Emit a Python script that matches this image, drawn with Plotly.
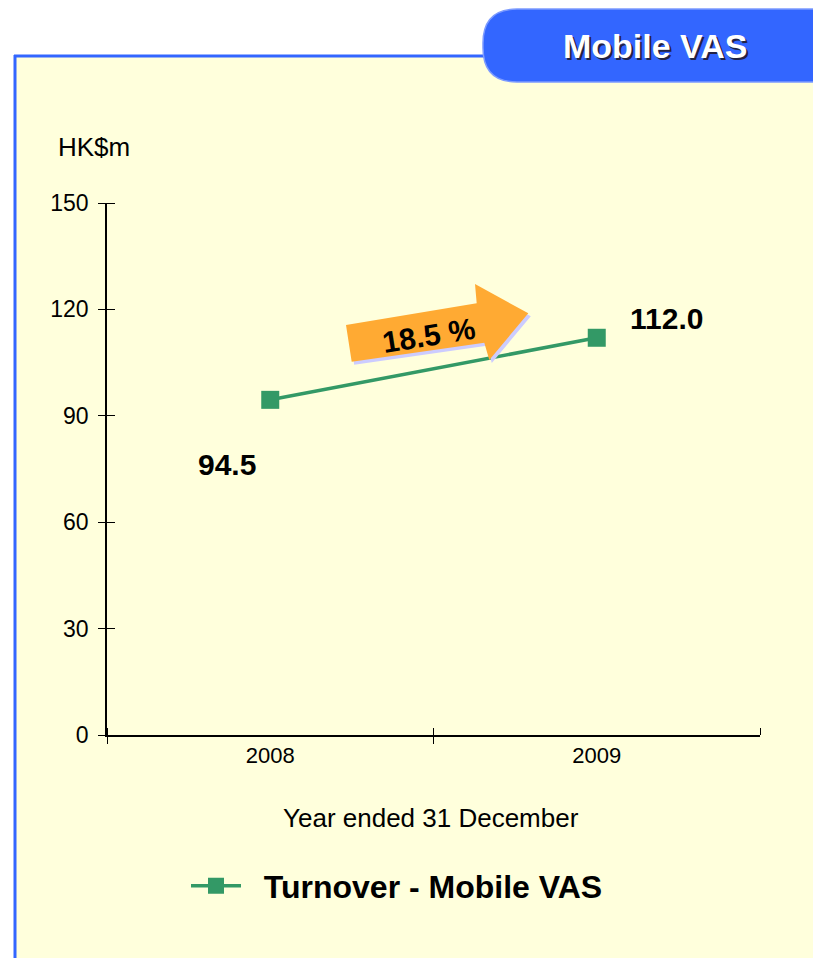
import plotly.graph_objects as go

# ---- data ----
years = ["2008", "2009"]
turnover = [94.5, 112.0]
value_labels = ["94.5", "112.0"]
growth_label = "18.5 %"
series_name = "Turnover - Mobile VAS"
y_ticks = [0, 30, 60, 90, 120, 150]
panel_title = "Mobile VAS"
y_unit = "HK$m"
x_title = "Year ended 31 December"

W, H = 813, 958
L, R, T, B = 107, 53, 203, 223
PW, PH = W - L - R, H - T - B

def px(x):
    return (x - L) / PW

def py(y):
    return (H - B - y) / PH

FONT = "Liberation Sans, Arial, sans-serif"
GREEN = "#339966"
BLUE = "#3366FF"

fig = go.Figure()
fig.add_trace(go.Scatter(
    x=years, y=turnover, mode="lines+markers", name=series_name,
    line=dict(color=GREEN, width=3.5),
    marker=dict(symbol="square", size=18, color=GREEN),
    hoverinfo="skip",
))

shapes = []
shapes.append(dict(type="rect", xref="paper", yref="paper", layer="below",
                   x0=px(15), x1=px(820), y0=py(965), y1=py(56),
                   fillcolor="#FFFFDC", line=dict(width=0)))
shapes.append(dict(type="line", xref="paper", yref="paper", layer="below",
                   x0=px(15), x1=px(15), y0=py(960), y1=py(55),
                   line=dict(color=BLUE, width=3)))
shapes.append(dict(type="line", xref="paper", yref="paper", layer="below",
                   x0=px(14), x1=px(820), y0=py(56), y1=py(56),
                   line=dict(color=BLUE, width=3)))

def rounded(x0, y0, x1, y1, r):
    return (f"M {px(x0 + r)} {py(y0)} L {px(x1 - r)} {py(y0)} "
            f"Q {px(x1)} {py(y0)} {px(x1)} {py(y0 + r)} "
            f"L {px(x1)} {py(y1 - r)} Q {px(x1)} {py(y1)} {px(x1 - r)} {py(y1)} "
            f"L {px(x0 + r)} {py(y1)} Q {px(x0)} {py(y1)} {px(x0)} {py(y1 - r)} "
            f"L {px(x0)} {py(y0 + r)} Q {px(x0)} {py(y0)} {px(x0 + r)} {py(y0)} Z")

shapes.append(dict(type="path", xref="paper", yref="paper",
                   path=rounded(483, 9, 860, 82, 34),
                   fillcolor=BLUE, line=dict(color="#7C9BFF", width=1.5)))

arrow_pts = [(351.7, 361.7), (346, 325), (476.7, 303.3), (475, 284),
             (528.3, 313.3), (489.3, 360), (484.3, 342.7)]

def poly(pts, dx=0, dy=0):
    return "M " + " L ".join(f"{px(x + dx)} {py(y + dy)}" for x, y in pts) + " Z"

shapes.append(dict(type="path", xref="paper", yref="paper",
                   path=poly(arrow_pts, 2.5, 3), fillcolor="#CCCCFF", line=dict(width=0)))
shapes.append(dict(type="path", xref="paper", yref="paper",
                   path=poly(arrow_pts), fillcolor="#FFAA33", line=dict(width=0)))

def ann(x, y, text, size, **kw):
    d = dict(xref="paper", yref="paper", x=px(x), y=py(y), text=text,
             showarrow=False, xanchor="center", yanchor="middle",
             font=dict(family=FONT, size=size, color=kw.pop("color", "black"),
                       **kw.pop("fkw", {})))
    d.update(kw)
    return d

annotations = [
    ann(655, 46, f"<b>{panel_title}</b>", 34, color="white",
        fkw=dict(shadow="2px 2px 0px #222244")),
    ann(94, 147, y_unit, 26),
    ann(431, 818, x_title, 26),
    ann(428, 335, f"<b>{growth_label}</b>", 30, textangle=-9),
]
shifts = [(-43, -65), (70, 19)]
for i, (yv, lab, (dx, dy)) in enumerate(zip(turnover, value_labels, shifts)):
    annotations.append(dict(x=i, y=yv, xref="x", yref="y", text=f"<b>{lab}</b>",
                            showarrow=False, xshift=dx, yshift=dy,
                            xanchor="center", yanchor="middle",
                            font=dict(family=FONT, size=30, color="black")))

tick_common = dict(tickwidth=1.3, tickcolor="black", showline=True, linecolor="black",
                   linewidth=1.5, showgrid=False, zeroline=False)
# with tickson="boundaries" minor ticks are drawn between the given values
minor_x = list(range(-1, len(years) + 1))
fig.update_layout(
    width=W, height=H,
    margin=dict(l=L, r=R, t=T, b=B, pad=0),
    paper_bgcolor="white", plot_bgcolor="rgba(0,0,0,0)",
    font=dict(family=FONT, color="black"),
    shapes=shapes, annotations=annotations,
    showlegend=True,
    legend=dict(orientation="h", x=px(186), y=py(886), xanchor="left", yanchor="middle",
                bgcolor="rgba(0,0,0,0)", font=dict(family=FONT, size=32, color="black"),
                itemwidth=50),
    xaxis=dict(type="category", range=[-0.5, len(years) - 0.5], tickson="boundaries",
               ticks="outside", ticklen=7,
               tickfont=dict(family=FONT, size=22, color="black"),
               minor=dict(ticks="inside", tickmode="array", tickvals=minor_x,
                          ticklen=7, tickwidth=1.3, tickcolor="black", showgrid=False),
               **tick_common),
    yaxis=dict(range=[0, 150], tickvals=y_ticks, ticks="outside", ticklen=7,
               tickfont=dict(family=FONT, size=23, color="black"),
               ticklabelstandoff=5,
               minor=dict(ticks="inside", tickmode="array", tickvals=y_ticks,
                          ticklen=8, tickwidth=1.3, tickcolor="black", showgrid=False),
               **tick_common),
)
fig.data[0].name = f"&nbsp;&nbsp;<b>{series_name}</b>"

fig.write_html("out.html")
